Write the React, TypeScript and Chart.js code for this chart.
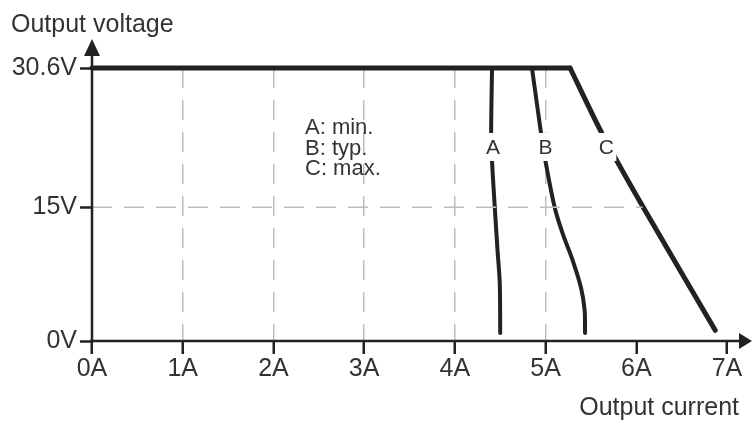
import React, { useEffect, useRef } from 'react';
import { Chart, registerables } from 'chart.js';

Chart.register(...registerables);

// ---- data ----
const xTickValues = [0, 1, 2, 3, 4, 5, 6, 7];
const xGridValues = [1, 2, 3, 4, 5];
const yTickValues = [0, 15, 30.6];
const yTickLabels = ['0V', '15V', '30.6V'];

const limit_I = [0, 5.27];
const limit_V = [30.6, 30.6];
const curveA_I = [4.41, 4.40, 4.41, 4.44, 4.47, 4.495, 4.50];
const curveA_V = [30.6, 23.3, 20.1, 15.0, 10.2, 6.5, 0.9];
const curveB_I = [4.85, 4.95, 5.0, 5.10, 5.19, 5.30, 5.39, 5.43, 5.435];
const curveB_V = [30.6, 23.3, 20.1, 15.0, 12.0, 9.0, 6.0, 3.5, 0.9];
const curveC_I = [5.27, 5.62, 6.07, 6.87];
const curveC_V = [30.6, 23.3, 15.1, 1.2];
const refLine_I = [0, 6.07];
const refLine_V = [15, 15];

const curveLabels = ['A', 'B', 'C'];
const curveLabel_I = [4.42, 5.0, 5.67];
const curveLabel_V = [21.75, 21.75, 21.75];
const legendLines = ['A: min.', 'B: typ.', 'C: max.'];
const xTitle = 'Output current';
const yTitle = 'Output voltage';

const FONT = '"Liberation Sans", Arial, Helvetica, sans-serif';
const INK = '#222';
const TEXT = '#333';

const zip = (xs: number[], ys: number[]) => xs.map((v, i) => ({ x: v, y: ys[i] }));

const decor = {
  id: 'decor',
  afterDatasetsDraw(chart: any) {
    const { ctx, chartArea, scales } = chart;
    const x = scales.x;
    const y = scales.y;
    ctx.save();
    // curve labels with white knock-out
    ctx.font = `21px ${FONT}`;
    ctx.textAlign = 'center';
    ctx.textBaseline = 'middle';
    curveLabels.forEach((t, i) => {
      const px = x.getPixelForValue(curveLabel_I[i]);
      const py = y.getPixelForValue(curveLabel_V[i]);
      ctx.fillStyle = '#fff';
      ctx.fillRect(px - 10, py - 14, 20, 28);
      ctx.fillStyle = TEXT;
      ctx.fillText(t, px, py + 1);
    });
    // axes + arrows
    const left = chartArea.left;
    const bottom = chartArea.bottom;
    ctx.strokeStyle = INK;
    ctx.lineWidth = 2.5;
    ctx.beginPath();
    ctx.moveTo(left - 2, bottom);
    ctx.lineTo(742, bottom);
    ctx.moveTo(left, bottom + 2);
    ctx.lineTo(left, 52);
    ctx.stroke();
    ctx.fillStyle = INK;
    ctx.beginPath();
    ctx.moveTo(752, bottom);
    ctx.lineTo(739, bottom - 8);
    ctx.lineTo(739, bottom + 8);
    ctx.closePath();
    ctx.fill();
    ctx.beginPath();
    ctx.moveTo(left, 39);
    ctx.lineTo(left - 8, 56);
    ctx.lineTo(left + 8, 56);
    ctx.closePath();
    ctx.fill();
    // titles
    ctx.fillStyle = TEXT;
    ctx.textBaseline = 'alphabetic';
    ctx.font = `25px ${FONT}`;
    ctx.textAlign = 'left';
    ctx.fillText(yTitle, 11, 32);
    ctx.textAlign = 'right';
    ctx.fillText(xTitle, 739, 415);
    // legend text
    ctx.font = `22px ${FONT}`;
    ctx.textAlign = 'left';
    legendLines.forEach((t, i) => {
      ctx.fillText(t, 305, 134 + i * 20.5);
    });
    ctx.restore();
  },
};

export default function App() {
  const ref = useRef<HTMLCanvasElement | null>(null);
  useEffect(() => {
    if (!ref.current) return;
    const lineDs = (label: string, data: any[], width: number, tension: number) => ({
      label,
      data,
      borderColor: INK,
      borderWidth: width,
      pointRadius: 0,
      tension,
      fill: false,
      clip: false as any,
      borderCapStyle: 'round' as const,
      borderJoinStyle: 'round' as const,
    });
    const chart = new Chart(ref.current, {
      type: 'line',
      data: {
        datasets: [
          {
            label: 'ref15',
            data: zip(refLine_I, refLine_V),
            borderColor: '#bdbdbd',
            borderWidth: 1.5,
            borderDash: [20, 12],
            pointRadius: 0,
            fill: false,
          },
          lineDs('limit', zip(limit_I, limit_V), 5, 0),
          lineDs('A', zip(curveA_I, curveA_V), 4, 0.3),
          lineDs('B', zip(curveB_I, curveB_V), 4, 0.35),
          lineDs('C', zip(curveC_I, curveC_V), 5, 0.25),
        ],
      },
      options: {
        animation: false,
        responsive: false,
        layout: { padding: { top: 68, right: 25, left: 0, bottom: 0 } },
        plugins: { legend: { display: false }, tooltip: { enabled: false } },
        scales: {
          x: {
            type: 'linear',
            min: 0,
            max: 7,
            afterBuildTicks: (s: any) => {
              s.ticks = xTickValues.map((v) => ({ value: v }));
            },
            afterFit: (s: any) => {
              s.height = 80;
            },
            ticks: {
              autoSkip: false,
              maxRotation: 0,
              padding: 0,
              color: TEXT,
              font: { family: FONT, size: 25 },
              callback: (v: any) => `${v}A`,
            },
            grid: {
              color: (c: any) => (c.tick && xGridValues.includes(c.tick.value) ? '#bdbdbd' : 'rgba(0,0,0,0)'),
              lineWidth: 1.5,
              drawTicks: true,
              tickLength: 13,
              tickColor: INK,
              tickWidth: 2.5,
            },
            border: { display: false, dash: [20, 12] },
          },
          y: {
            type: 'linear',
            min: 0,
            max: 30.6,
            afterBuildTicks: (s: any) => {
              s.ticks = yTickValues.map((v) => ({ value: v }));
            },
            afterFit: (s: any) => {
              s.width = 92;
            },
            ticks: {
              autoSkip: false,
              padding: 3,
              color: TEXT,
              font: { family: FONT, size: 25 },
              callback: (v: any) => {
                const i = yTickValues.indexOf(Number(v));
                return i >= 0 ? yTickLabels[i] : '';
              },
            },
            grid: {
              drawOnChartArea: false,
              drawTicks: true,
              tickLength: 12,
              tickColor: INK,
              tickWidth: 2.5,
              color: 'rgba(0,0,0,0)',
            },
            border: { display: false },
          },
        },
      },
      plugins: [decor],
    });
    return () => chart.destroy();
  }, []);
  return (
    <div style={{ position: 'absolute', left: 0, top: 0, width: 752, height: 421, background: '#fff' }}>
      <canvas ref={ref} width={752} height={421} style={{ width: 752, height: 421, display: 'block' }} />
    </div>
  );
}
